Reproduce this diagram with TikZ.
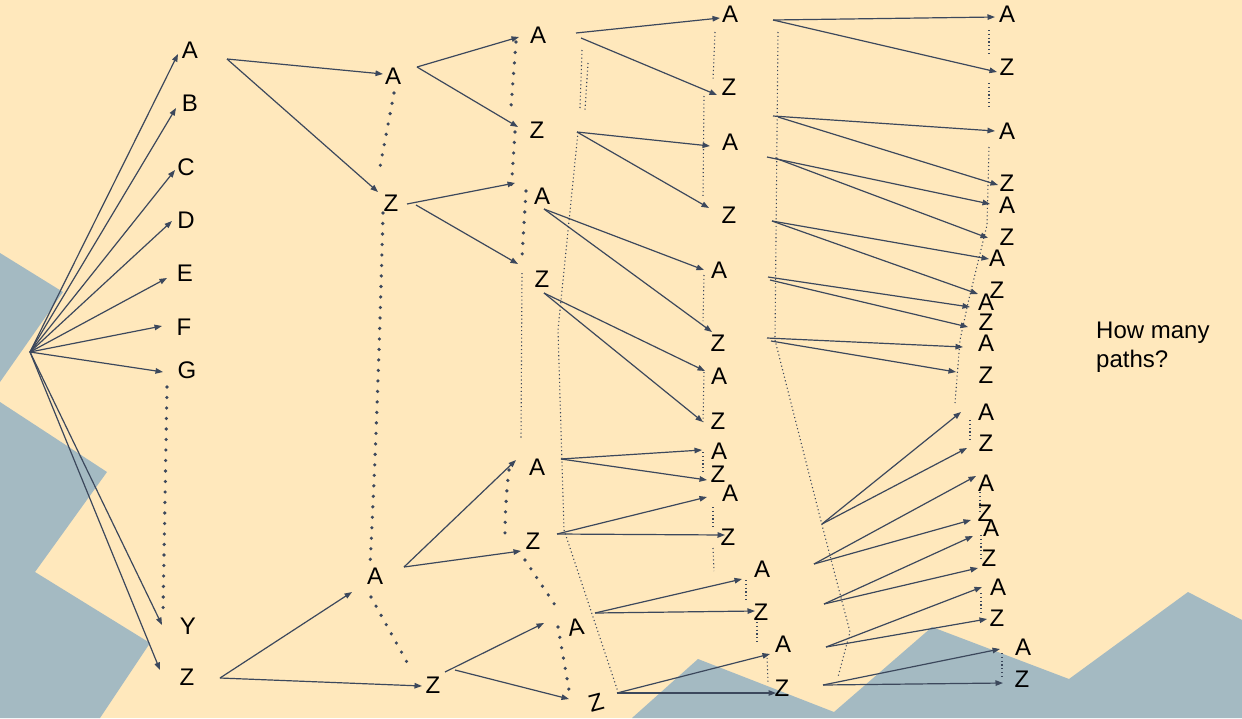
\documentclass[tikz,border=0pt]{standalone}
\usepackage{fontspec}
\setmainfont{Liberation Sans}
\usetikzlibrary{arrows.meta}
\definecolor{peach}{HTML}{FFE8BC}
\definecolor{slate}{HTML}{A4BAC2}
\definecolor{ink}{HTML}{3C485C}
\begin{document}
\begin{tikzpicture}[x=1pt,y=-1pt,
  lab/.style={font=\fontsize{24pt}{29pt}\selectfont, inner sep=0pt, text=black},
  arr/.style={draw=ink, line width=1.2pt, -{Triangle[length=7.5pt,width=5.5pt]}},
  bigdots/.style={draw=ink, line width=3.6pt, line cap=round, dash pattern=on 0pt off 10.5pt},
  smalldots/.style={draw=ink, line width=1.1pt, dash pattern=on 1.1pt off 2.7pt},
  bg/.style={fill=peach},
  mount/.style={fill=slate}]
% background
\fill[bg] (0,0) rectangle (1242,718);
\useasboundingbox (0,0) rectangle (1242,718);
\fill[mount] (0,253) -- (63,292) -- (0,382) -- cycle;
\fill[mount] (0,402) -- (107,472) -- (35,572) -- (150,643) -- (100,718) -- (0,718) -- cycle;
\fill[mount] (632,718) -- (698,659) -- (834,712) -- (932,627) -- (1069,679) -- (1188,592) -- (1242,620) -- (1242,718) -- cycle;

% coordinates: origins and tips
\foreach \n/\x/\y in {
  f0/30/352, fA/178/54, fB/176/108, fC/175/170, fD/172/221, fE/167/278, fF/162/326, fG/163/372, fY/162/625, fZ/160/670,
  o1A/227/59, o1Z/220/678, t2A/383/74, t2Z/378/192, t2A2/352/592, t2Z2/422/686,
  o2A/417/67, o2Za/407/204, o2Zb/416/205, o2A2/404/567, o2Z2a/445/672, o2Z2b/455/670,
  t3a/519/37, t3b/518/127, t3c/515/183, t3d/518/264, t3e/516/460, t3f/521/551, t3g/544/623, t3h/569/699,
  o3a1/576/33, o3a2/581/38, o3b/577/132, o3c/544/209, o3d/544/293, o3e/561/459, o3f/557/534, o3g/595/613, o3h/617/693,
  t4a/720/18, t4b/717/95, t4c/710/146, t4d/709/208, t4e/704/270, t4f/712/332, t4g/705/371, t4h/703/422,
  t4i/702/450, t4j/707/480, t4k/707/497, t4l/725/535, t4m/742/579, t4n/755/611, t4o/770/654, t4p/776/693,
  o5a/773/20, o5b1/773/116, o5b2/778/117, o5c1/767/157, o5c2/775/158, o5d/772/221, o5e1/768/277, o5e2/770/280,
  o5f1/767/338, o5f2/771/341, o5g/822/524, o5h/814/564, o5i/824/604, o5j/826/647, o5k/823/685,
  t6a/995/17, t6b/997/72, t6c/995/131, t6d/998/185, t6e/990/204, t6f/988/238, t6g/989/259, t6h/978/294,
  t6i/970/307, t6j/968/327, t6k/963/347, t6l/956/372, t6m/961/412, t6n/967/448, t6o/976/476, t6p/971/520,
  t6q/973/536, t6r/978/568, t6s/982/587, t6t/987/619, t6u/1000/649, t6v/1003/683}
  \coordinate (\n) at (\x,\y);

% thick dotted lines
\draw[bigdots] (167,387) -- (163,612);
\draw[bigdots] (394,93) -- (380,167);
\draw[bigdots] (383,213) .. controls (380,330) and (376,450) .. (370,565);
\draw[bigdots] (371,597) -- (408,664);
\draw[bigdots] (516,42) -- (511,107);
\draw[bigdots] (515,132) -- (511,192);
\draw[bigdots] (526,191) -- (522,257);
\draw[bigdots] (509,470) .. controls (506,495) and (505,515) .. (505,537);
\draw[bigdots] (525,560) -- (555,605);
\draw[bigdots] (558,627) -- (569,690);

% thin dotted lines
\draw[smalldots] (522,273) -- (521,440);
\draw[smalldots] (582,50) -- (580,108);
\draw[smalldots] (588,63) -- (585,110);
\draw[smalldots] (578,132) -- (558,330) -- (564,530) -- (618,692);
\draw[smalldots] (715,32) -- (713,80);
\draw[smalldots] (704,96) -- (703,197);
\draw[smalldots] (704,275) -- (703,321);
\draw[smalldots] (704,372) -- (703,422);
\draw[smalldots] (703,452) -- (703,472);
\draw[smalldots] (713,507) -- (713,527);
\draw[smalldots] (713,548) -- (714,571);
\draw[smalldots] (746,580) -- (746,601);
\draw[smalldots] (757,622) -- (757,644);
\draw[smalldots] (767,654) -- (768,683);
\draw[smalldots] (778,32) -- (775,340) -- (822,525) -- (850,632) -- (838,677);
\draw[smalldots] (989,30) -- (989,53);
\draw[smalldots] (989,83) -- (989,107);
\draw[smalldots] (989,147) -- (987,225) -- (968,303) -- (960,340) -- (955,403);
\draw[smalldots] (970,420) -- (970,442);
\draw[smalldots] (980,492) -- (980,512);
\draw[smalldots] (981,535) -- (981,560);
\draw[smalldots] (981,593) -- (981,613);
\draw[smalldots] (1002,653) -- (1002,677);

% arrows
\foreach \a/\b in {f0/fA, f0/fB, f0/fC, f0/fD, f0/fE, f0/fF, f0/fG, f0/fY, f0/fZ,
  o1A/t2A, o1A/t2Z, o1Z/t2A2, o1Z/t2Z2,
  o2A/t3a, o2A/t3b, o2Za/t3c, o2Zb/t3d, o2A2/t3e, o2A2/t3f, o2Z2a/t3g, o2Z2b/t3h,
  o3a1/t4a, o3a2/t4b, o3b/t4c, o3b/t4d, o3c/t4e, o3c/t4f, o3d/t4g, o3d/t4h,
  o3e/t4i, o3e/t4j, o3f/t4k, o3f/t4l, o3g/t4m, o3g/t4n, o3h/t4o, o3h/t4p,
  o5a/t6a, o5a/t6b, o5b1/t6c, o5b2/t6d, o5c1/t6e, o5c2/t6f, o5d/t6g, o5d/t6h,
  o5e1/t6i, o5e2/t6j, o5f1/t6k, o5f2/t6l, o5g/t6m, o5g/t6n, o5h/t6o, o5h/t6p,
  o5i/t6q, o5i/t6r, o5j/t6s, o5j/t6t, o5k/t6u, o5k/t6v}
  \draw[arr] (\a) -- (\b);

% labels
\foreach \n/\t/\x/\y in {
  c1a/A/190/50, c1b/B/190/103, c1c/C/186/167, c1d/D/186/220, c1e/E/185/273, c1f/F/184/327, c1g/G/187/370, c1y/Y/188/626, c1z/Z/187/677,
  c2a/A/393/76, c2b/Z/391/203, c2c/A/375/576, c2d/Z/433/685,
  c3a/A/538/35, c3b/Z/537/130, c3c/A/542/196, c3d/Z/542/279, c3e/A/537/467, c3f/Z/533/541,
  c4a/A/730/14, c4b/Z/729/87, c4c/A/730/142, c4d/Z/729/215, c4e/A/719/270, c4f/Z/718/343, c4g/A/719/376, c4h/Z/718/421,
  c4i/A/719/451, c4j/Z/718/474, c4k/A/730/493, c4l/Z/728/537, c4m/A/762/569, c4n/Z/761/612, c4o/A/783/644, c4p/Z/782/688,
  r1/A/1007/14, r2/Z/1007/67, r3/A/1007/131, r4/Z/1007/183, r5/A/1007/205, r6/Z/1007/237, r7/A/997/258, r8/Z/997/290,
  r9/A/986/302, r10/Z/986/322, r11/A/986/343, r12/Z/986/375, r13/A/986/412, r14/Z/986/443, r15/A/986/483, r16/Z/985/513,
  r17/A/991/528, r18/Z/989/558, r19/A/998/587, r20/Z/997/618, r21/A/1023/647, r22/Z/1022/679}
  \node[lab] (\n) at (\x,\y) {\t};
\node[lab, rotate=8] (c3g) at (576,627) {A};
\node[lab, rotate=15] (c3h) at (596,703) {Z};
\node[lab, anchor=north west, align=left] (q) at (1096,322) {How many\\paths?};
\end{tikzpicture}
\end{document}
